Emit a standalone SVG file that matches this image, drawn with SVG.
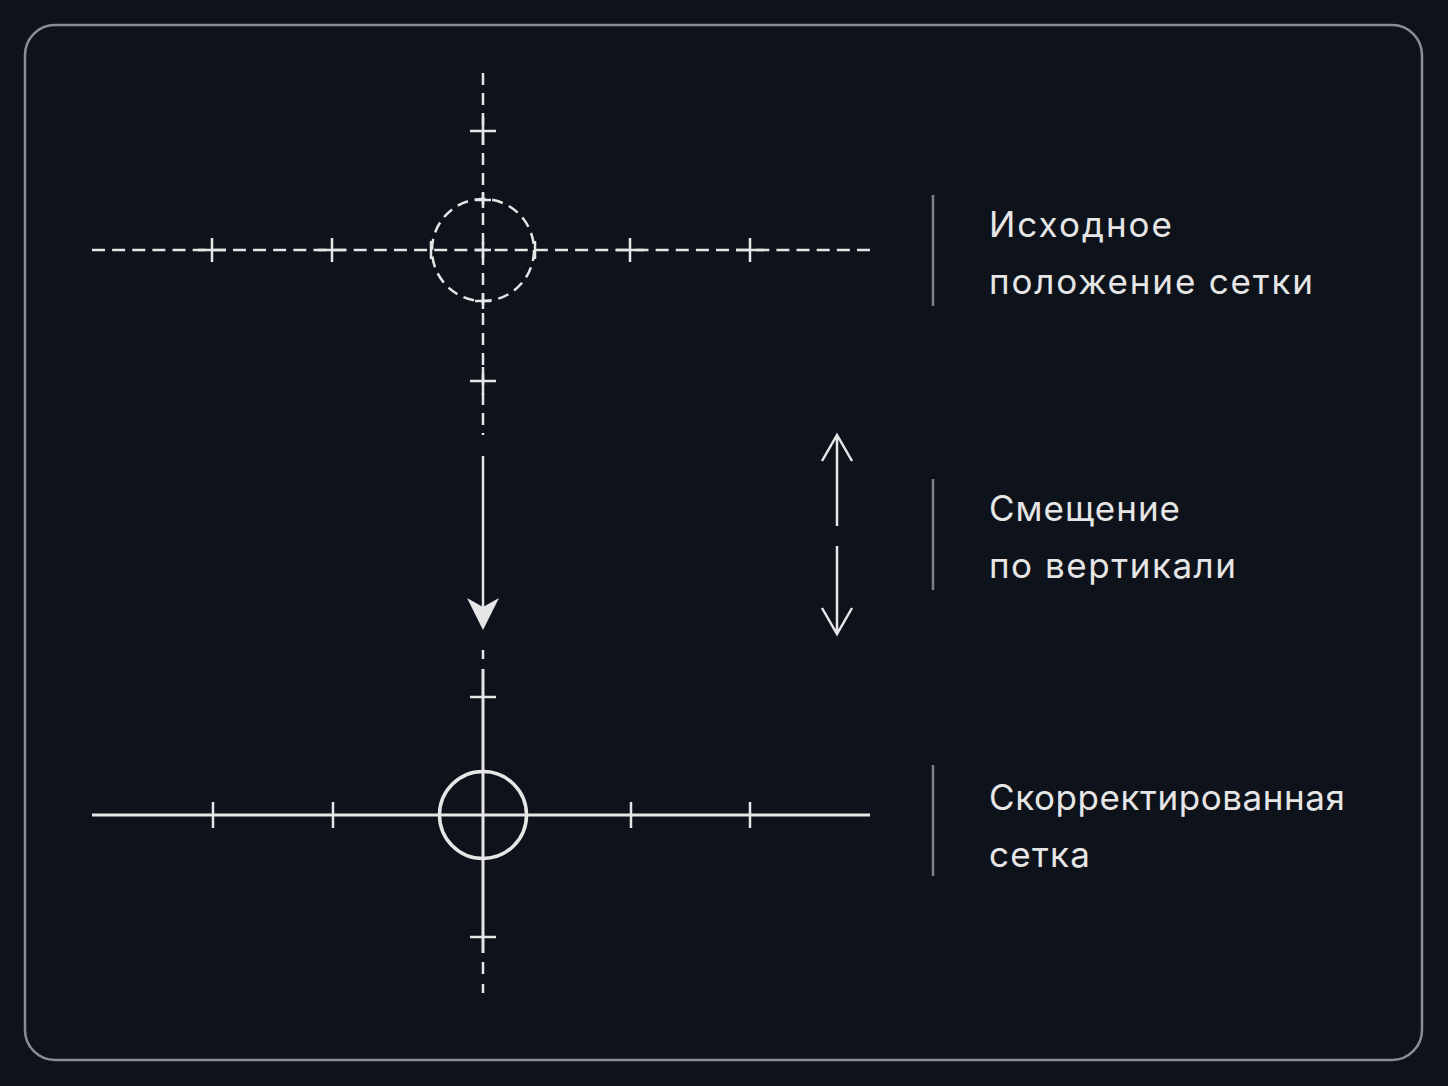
<svg xmlns="http://www.w3.org/2000/svg" width="1448" height="1086" viewBox="0 0 1448 1086">
<defs>
<style>
.ln{stroke:#e6e6e6;fill:none;stroke-linecap:butt}
.dash{stroke-width:2.5;stroke-dasharray:13 7.13}
.vdash{stroke-width:2.5;stroke-dasharray:12 8}
.solid{stroke-width:3}
.tick{stroke-width:2.5}
.div{stroke:#7d8086;stroke-width:2.5}
.lbl{font-family:Inter,"Noto Sans","Liberation Sans",sans-serif;font-size:35px;fill:#e6e6e6}
</style>
</defs>
<rect x="0" y="0" width="1448" height="1086" fill="#0e131b"/>
<rect x="25" y="25" width="1397" height="1035" rx="30" fill="#0e131b" stroke="#8a8d92" stroke-width="2.5"/>

<g id="original-grid">
<line class="ln dash" x1="92" y1="250" x2="870" y2="250"/>
<line class="ln vdash" x1="483" y1="73" x2="483" y2="435"/>
<circle class="ln" cx="483" cy="250" r="51" stroke-width="2.5" stroke-dasharray="11 6.8"/>
<path class="ln tick" d="M212 238V262M198 250H226M332 238V262M318 250H346M630 238V262M616 250H644M750 238V262M736 250H764"/>
<path class="ln tick" d="M470 131H496M483 117V145M470 381H496M483 367V395"/>
<path class="ln tick" d="M475 200H491M483 192V208M475 250H491M483 242V258M475 301H491M483 293V309M431 241V259M535 241V259"/>
</g>

<g id="corrected-grid">
<line class="ln solid" x1="92" y1="815" x2="870" y2="815"/>
<line class="ln solid" x1="483" y1="669" x2="483" y2="953"/>
<path class="ln tick" d="M483 650V659M483 962V974M483 984V993"/>
<circle class="ln" cx="483" cy="815" r="43.5" stroke-width="3.5"/>
<path class="ln tick" d="M213 802V828M333 802V828M631 802V828M750 802V828"/>
<path class="ln tick" d="M470 697H496M470 937H496"/>
</g>

<g id="connectors">
<line class="ln" x1="483" y1="456" x2="483" y2="612" stroke-width="2.5"/>
<path d="M483 630L467 598L483 607L499 598Z" fill="#e6e6e6"/>
<path class="ln" stroke-width="2.5" stroke-linejoin="miter" d="M837 526V436M822 461L837 435L852 461"/>
<path class="ln" stroke-width="2.5" stroke-linejoin="miter" d="M837 546V633M822 608L837 634L852 608"/>
</g>

<g id="label-original">
<line class="div" x1="933" y1="195" x2="933" y2="306"/>
<text class="lbl" x="989" y="237" textLength="183" lengthAdjust="spacing">Исходное</text>
<text class="lbl" x="989" y="294" textLength="324" lengthAdjust="spacing">положение сетки</text>
</g>
<g id="label-shift">
<line class="div" x1="933" y1="479" x2="933" y2="590"/>
<text class="lbl" x="989" y="521" textLength="191" lengthAdjust="spacing">Смещение</text>
<text class="lbl" x="989" y="578" textLength="247" lengthAdjust="spacing">по вертикали</text>
</g>
<g id="label-corrected">
<line class="div" x1="933" y1="765" x2="933" y2="876"/>
<text class="lbl" x="989" y="810" textLength="356" lengthAdjust="spacing">Скорректированная</text>
<text class="lbl" x="989" y="867" textLength="101" lengthAdjust="spacing">сетка</text>
</g>
</svg>
